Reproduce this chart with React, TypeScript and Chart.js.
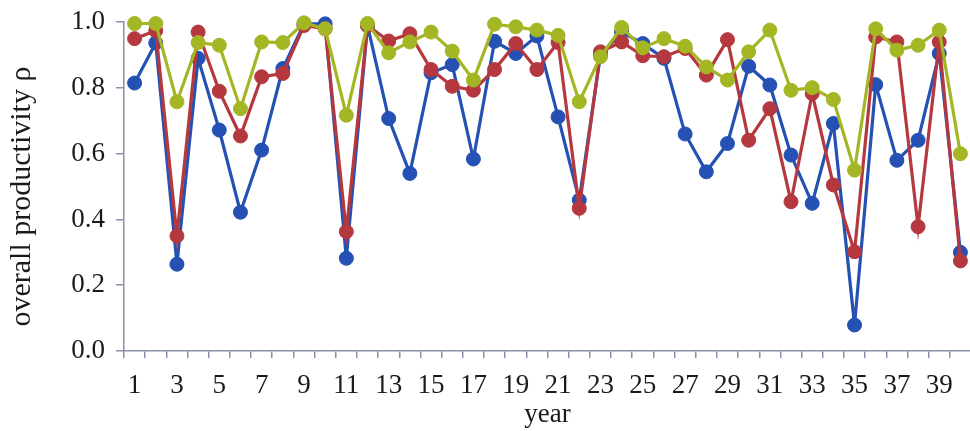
import React, { useEffect, useRef } from "react";
import { Chart, registerables } from "chart.js";

Chart.register(...registerables);

// Years on the horizontal axis
const years: string[] = Array.from({ length: 40 }, (_, i) => String(i + 1));

// Overall productivity per year for the three series
const blueSeries: number[] = [
  0.815, 0.937, 0.264, 0.89, 0.672, 0.422, 0.611, 0.859, 0.995, 0.995,
  0.282, 0.99, 0.707, 0.54, 0.846, 0.871, 0.584, 0.942, 0.905, 0.958,
  0.712, 0.459, 0.9, 0.97, 0.935, 0.89, 0.66, 0.545, 0.631, 0.866,
  0.809, 0.596, 0.449, 0.692, 0.079, 0.81, 0.58, 0.641, 0.905, 0.3,
];
const redSeries: number[] = [
  0.95, 0.974, 0.35, 0.97, 0.79, 0.654, 0.834, 0.844, 0.99, 0.98,
  0.363, 0.99, 0.943, 0.965, 0.856, 0.805, 0.793, 0.856, 0.935, 0.856,
  0.938, 0.434, 0.91, 0.94, 0.898, 0.895, 0.92, 0.839, 0.947, 0.641,
  0.737, 0.454, 0.783, 0.505, 0.302, 0.955, 0.94, 0.378, 0.94, 0.274,
];
const greenSeries: number[] = [
  0.996, 0.996, 0.758, 0.938, 0.93, 0.737, 0.94, 0.938, 0.998, 0.98,
  0.717, 0.996, 0.907, 0.94, 0.97, 0.912, 0.824, 0.994, 0.986, 0.976,
  0.96, 0.758, 0.895, 0.984, 0.922, 0.95, 0.927, 0.864, 0.824, 0.91,
  0.976, 0.793, 0.801, 0.765, 0.55, 0.98, 0.915, 0.93, 0.976, 0.6,
];

const yTicks: number[] = [0, 0.2, 0.4, 0.6, 0.8, 1.0];
const yTitle = "overall productivity ρ";
const xTitle = "year";

const BLUE = "#2451b3";
const RED = "#b5383f";
const GREEN = "#a4b624";
const AXIS = "#8a90aa";
const TEXT = "#1a1a1a";
const FONT = "'Liberation Serif', 'Times New Roman', serif";

// Vertical axis title, placed a little below the plot's centre line
const yTitlePlugin = {
  id: "yTitle",
  afterDraw(chart: any) {
    const { ctx, chartArea } = chart;
    ctx.save();
    ctx.font = `30px ${FONT}`;
    ctx.fillStyle = TEXT;
    ctx.textAlign = "center";
    ctx.textBaseline = "middle";
    ctx.translate(22, (chartArea.top + chartArea.bottom) / 2 + 10);
    ctx.rotate(-Math.PI / 2);
    ctx.fillText(yTitle, 0, 0);
    ctx.restore();
  },
};

export default function App() {
  const canvasRef = useRef<HTMLCanvasElement | null>(null);

  useEffect(() => {
    const canvas = canvasRef.current;
    if (!canvas) return;

    const series = (label: string, data: number[], color: string, order: number) => ({
      label,
      data,
      order,
      borderColor: color,
      backgroundColor: color,
      pointBackgroundColor: color,
      pointBorderColor: color,
      borderWidth: 3.2,
      pointRadius: 7,
      pointBorderWidth: 1,
      tension: 0,
      clip: false as const,
    });

    const chart = new Chart(canvas, {
      type: "line",
      data: {
        labels: years,
        datasets: [
          series("blue", blueSeries, BLUE, 2),
          series("red", redSeries, RED, 1),
          series("green", greenSeries, GREEN, 0),
        ],
      },
      plugins: [yTitlePlugin],
      options: {
        animation: false,
        responsive: false,
        devicePixelRatio: 1,
        layout: { padding: { top: 17, right: 29, left: 0, bottom: 0 } },
        plugins: { legend: { display: false }, tooltip: { enabled: false } },
        scales: {
          x: {
            type: "category",
            offset: true,
            grid: {
              offset: true,
              drawOnChartArea: false,
              drawTicks: true,
              tickLength: 7,
              color: AXIS,
              lineWidth: 1.5,
            },
            border: { color: AXIS, width: 1.5 },
            ticks: {
              autoSkip: false,
              maxRotation: 0,
              padding: 12,
              color: TEXT,
              font: { family: FONT, size: 27 },
              callback: (_v: any, i: number) => (i % 2 === 0 ? years[i] : ""),
            },
            title: {
              display: true,
              text: xTitle,
              color: TEXT,
              font: { family: FONT, size: 27 },
              padding: { top: 0, bottom: 0 },
            },
            afterFit: (scale: any) => {
              scale.height = 80;
            },
          },
          y: {
            min: 0,
            max: 1,
            afterBuildTicks: (scale: any) => {
              scale.ticks = yTicks.map((v) => ({ value: v }));
            },
            grid: {
              drawOnChartArea: false,
              drawTicks: true,
              tickLength: 8,
              color: AXIS,
              lineWidth: 1.5,
            },
            border: { color: AXIS, width: 1.5 },
            ticks: {
              padding: 11,
              color: TEXT,
              font: { family: FONT, size: 27 },
              callback: (v: any) => Number(v).toFixed(1),
            },
            afterFit: (scale: any) => {
              scale.width = 124;
            },
          },
        },
      },
    });

    return () => chart.destroy();
  }, []);

  return (
    <div
      style={{
        position: "absolute",
        left: 0,
        top: 0,
        width: 970,
        height: 431,
        overflow: "hidden",
        background: "#ffffff",
      }}
    >
      <canvas
        ref={canvasRef}
        width={1000}
        height={436}
        style={{ display: "block", marginTop: -5 }}
      />
    </div>
  );
}
